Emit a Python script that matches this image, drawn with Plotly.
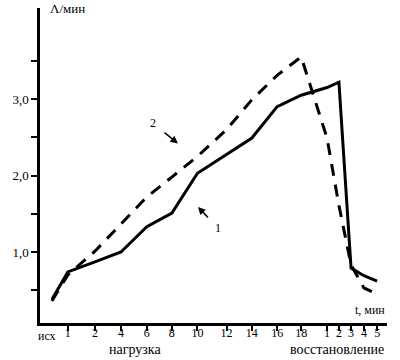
import plotly.graph_objects as go

# categories (time points)
categories = ["исх", "1", "2", "4", "6", "8", "10", "12", "14", "16", "18",
              "1", "2", "3", "4", "5"]
# axis position of each category (non-uniform scale of the original)
x_pos = [0, 0.63, 1.7, 2.73, 3.75, 4.74, 5.75, 6.9, 7.9, 8.9, 9.85,
         10.87, 11.34, 11.82, 12.33, 12.85]

# series values (Λ/мин)
series1 = [0.38, 0.74, 0.87, 1.0, 1.33, 1.51, 2.03, 2.28, 2.49, 2.9, 3.05,
           3.15, 3.22, 0.79, 0.69, 0.62]
series2 = [0.36, 0.70, 1.01, 1.37, 1.72, 1.98, 2.25, 2.6, 2.99, 3.31, 3.55,
           2.49, 1.61, 0.83, 0.53, 0.45]

y_ticks = [0.5, 1.0, 1.5, 2.0, 2.5, 3.0, 3.5]
y_ticktext = ["", "1,0", "", "2,0", "", "3,0", ""]

FONT = "Liberation Serif"

fig = go.Figure()
fig.add_trace(go.Scatter(x=x_pos, y=series1, mode="lines",
                         line=dict(color="black", width=3), showlegend=False))
fig.add_trace(go.Scatter(x=x_pos, y=series2, mode="lines",
                         line=dict(color="black", width=3, dash="12px,9px"),
                         showlegend=False))

fig.update_layout(
    width=400, height=360,
    margin=dict(l=40, r=13, t=8, b=37),
    paper_bgcolor="white", plot_bgcolor="white",
    font=dict(family=FONT, color="black", size=12),
    xaxis=dict(range=[-0.47, 13.24], showgrid=False, zeroline=False,
               showline=True, linecolor="black", linewidth=2.5,
               ticks="outside", ticklen=5, tickwidth=1.5, tickcolor="black",
               tickvals=x_pos[1:], ticktext=categories[1:],
               ticklabelstandoff=-8,
               tickfont=dict(family=FONT, size=12, color="black")),
    yaxis=dict(range=[0.072, 4.19], showgrid=False, zeroline=False,
               showline=True, linecolor="black", linewidth=2.5,
               ticks="outside", ticklen=6, tickwidth=1.5, tickcolor="black",
               tickvals=y_ticks, ticktext=y_ticktext,
               tickfont=dict(family=FONT, size=13, color="black")),
)

ann = [
    dict(x=-0.2, y=-0.013, xref="x", yref="paper", text="исх", showarrow=False,
         xanchor="center", yanchor="top", font=dict(size=12)),
    dict(x=0.023, y=1.0, xref="paper", yref="paper", text="Λ/мин", showarrow=False,
         xanchor="left", yanchor="middle", font=dict(size=13)),
    dict(x=1.0, y=0.013, xref="paper", yref="paper", text="t, мин", showarrow=False,
         xanchor="right", yanchor="bottom", font=dict(size=12)),
    dict(x=3.3, y=-0.054, xref="x", yref="paper", text="нагрузка", showarrow=False,
         xanchor="center", yanchor="top", font=dict(size=14)),
    dict(x=11.25, y=-0.054, xref="x", yref="paper", text="восстановление", showarrow=False,
         xanchor="center", yanchor="top", font=dict(size=14)),
    # label 2 with arrow
    dict(x=4.98, y=2.42, xref="x", yref="y", ax=-25, ay=-20, text="2",
         showarrow=True, arrowhead=2, arrowsize=1, arrowwidth=1.5, arrowcolor="black",
         standoff=0, startstandoff=9, font=dict(size=12)),
    # label 1 with arrow
    dict(x=5.77, y=1.59, xref="x", yref="y", ax=20, ay=21, text="1",
         showarrow=True, arrowhead=2, arrowsize=1, arrowwidth=1.5, arrowcolor="black",
         standoff=0, startstandoff=8, font=dict(size=12)),
]
fig.update_layout(annotations=ann)

fig.write_html("out.html", post_script="document.body.style.margin='0';",
               config={"displayModeBar": False})
